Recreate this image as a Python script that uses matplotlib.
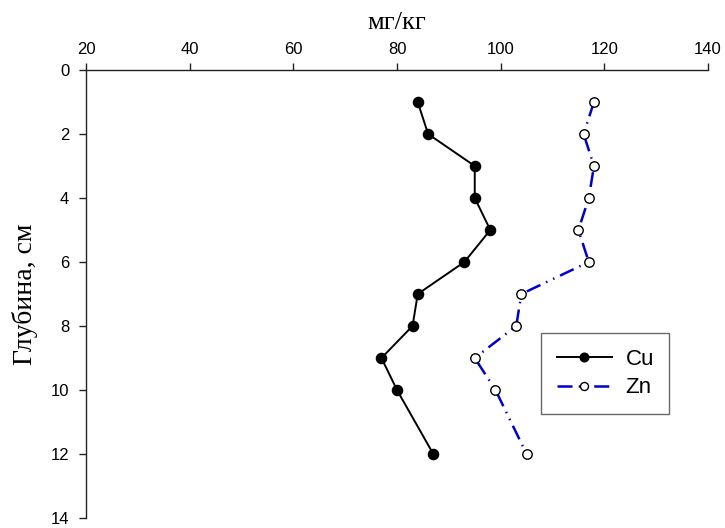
import matplotlib
matplotlib.use("Agg")
import matplotlib.pyplot as plt

depth = [1, 2, 3, 4, 5, 6, 7, 8, 9, 10, 12]
cu = [84, 86, 95, 95, 98, 93, 84, 83, 77, 80, 87]
zn = [118, 116, 118, 117, 115, 117, 104, 103, 95, 99, 105]
xticks = [20, 40, 60, 80, 100, 120, 140]
yticks = [0, 2, 4, 6, 8, 10, 12, 14]

plt.rcParams['font.family'] = ['Liberation Sans', 'DejaVu Sans']

fig = plt.figure(figsize=(7.25, 5.28), dpi=100)
ax = fig.add_axes([86/725, 1-518/528, (708-86)/725, (518-70)/528])

ax.plot(cu, depth, color='black', lw=1.4, marker='o', ms=7.3,
        mfc='black', mec='black', label='Cu', zorder=3)
ax.plot(zn, depth, color='#0000CC', lw=1.8, dashes=(6, 2.5, 0.6, 2.5, 0.6, 2.5),
        marker='o', ms=6.8, mfc='white', mec='black', mew=1.0, label='Zn', zorder=3)

ax.set_xlim(20, 140)
ax.set_ylim(14, 0)
ax.set_xticks(xticks)
ax.set_yticks(yticks)
ax.xaxis.tick_top()
ax.xaxis.set_label_position('top')
for s in ['right', 'bottom']:
    ax.spines[s].set_visible(False)
for s in ['left', 'top']:
    ax.spines[s].set_linewidth(1.0)
    ax.spines[s].set_color('#222222')
ax.tick_params(axis='both', direction='out', length=5, width=1.0,
               labelsize=12, colors='#222222', labelcolor='black')
ax.tick_params(axis='x', pad=4.5)
ax.tick_params(axis='y', pad=7)

ax.set_xlabel('мг/кг', family=['Liberation Serif', 'DejaVu Serif'], fontsize=19, labelpad=9)
ax.set_ylabel('Глубина, см', family=['Liberation Serif', 'DejaVu Serif'], fontsize=20, labelpad=9)

leg = ax.legend(loc='upper left', bbox_to_anchor=((541-86)/622, 1-(333-70)/448),
                fontsize=16, frameon=True, fancybox=False, edgecolor='#444444',
                handlelength=2.5, borderpad=0.7, labelspacing=0.35, handletextpad=0.6,
                borderaxespad=0, markerscale=0.85)
leg.get_frame().set_linewidth(1.0)

fig.savefig('out.png', dpi=100)
